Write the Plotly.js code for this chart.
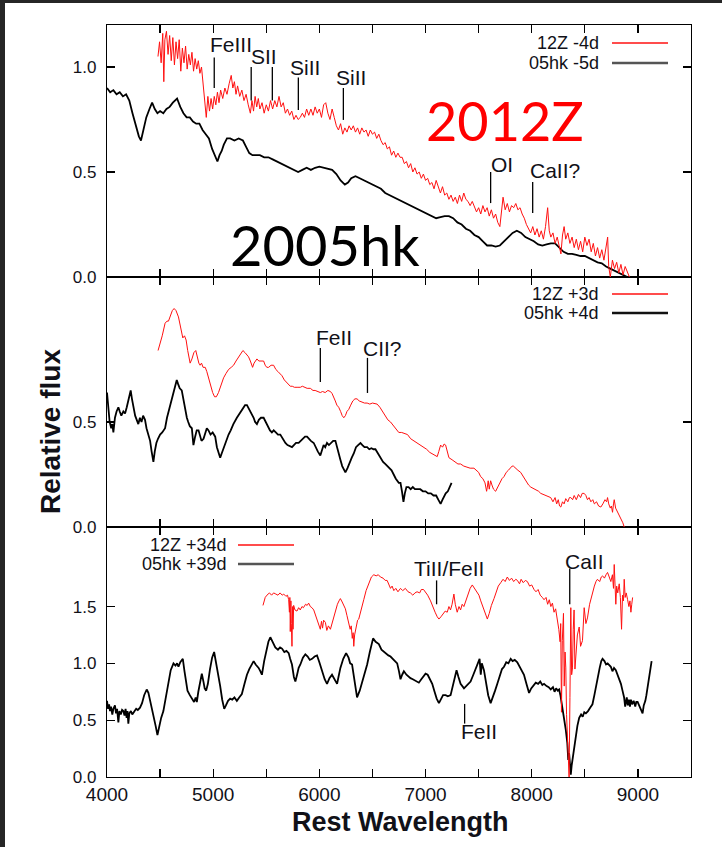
<!DOCTYPE html>
<html>
<head>
<meta charset="utf-8">
<script src="https://cdn.plot.ly/plotly-3.0.1.min.js"></script>
<style>
  html, body { margin: 0; padding: 0; background: #ffffff; }
  #chart { width: 722px; height: 847px; }
</style>
</head>
<body>
<div id="chart"></div>
<script>
// ---- Panel 1: pre-maximum spectra ----
const wlZ_m4 = [4480,4495,4510,4525,4535,4545,4560,4575,4590,4605,4620,4635,4650,4665,4680,4695,4710,4725,4740,4755,4770,4785,4800,4815,4830,4845,4860,4875,4890,4905,4920,4935,4950,4965,4980,4995,5010,5025,5040,5055,5070,5090,5110,5130,5150,5170,5185,5200,5215,5230,5250,5270,5290,5310,5330,5350,5365,5380,5395,5410,5425,5440,5460,5480,5500,5520,5540,5560,5580,5600,5620,5640,5660,5680,5700,5720,5740,5760,5780,5800,5820,5840,5860,5880,5900,5920,5940,5960,5980,6000,6020,6040,6060,6080,6100,6120,6140,6160,6180,6200,6220,6240,6260,6280,6300,6320,6340,6360,6380,6400,6420,6440,6460,6480,6500,6520,6540,6560,6580,6600,6620,6640,6660,6680,6700,6720,6740,6760,6780,6800,6820,6840,6860,6880,6900,6920,6940,6960,6980,7000,7020,7040,7060,7080,7100,7120,7140,7160,7180,7200,7220,7240,7260,7280,7300,7320,7340,7360,7380,7400,7420,7440,7460,7480,7500,7520,7540,7560,7580,7600,7620,7640,7660,7680,7700,7715,7730,7750,7770,7790,7810,7830,7850,7870,7890,7910,7930,7950,7970,7990,8010,8030,8050,8070,8090,8110,8130,8150,8165,8180,8200,8220,8240,8260,8275,8290,8305,8320,8340,8360,8380,8400,8420,8440,8460,8480,8500,8520,8540,8560,8580,8600,8620,8640,8660,8680,8700,8715,8725,8740,8760,8780,8800,8820,8840,8860,8880,8900,8920];
const fxZ_m4 = [1.05,1.12,1.02,1.16,0.93,1.13,1.17,1.06,1.15,1.03,1.14,1.01,1.12,1.04,1.13,0.98,1.09,1.02,1.10,0.99,1.06,1.01,1.07,0.98,1.04,0.99,1.03,0.97,1.00,0.93,0.84,0.76,0.86,0.79,0.85,0.80,0.86,0.82,0.88,0.83,0.89,0.85,0.90,0.87,0.92,0.96,0.90,0.93,0.87,0.91,0.86,0.89,0.84,0.87,0.82,0.78,0.84,0.79,0.86,0.81,0.85,0.80,0.83,0.78,0.82,0.79,0.84,0.80,0.84,0.81,0.86,0.81,0.83,0.78,0.80,0.77,0.79,0.75,0.77,0.75,0.76,0.78,0.76,0.80,0.77,0.80,0.77,0.81,0.78,0.80,0.76,0.82,0.83,0.78,0.75,0.80,0.76,0.72,0.70,0.73,0.68,0.71,0.69,0.72,0.70,0.72,0.69,0.71,0.68,0.71,0.69,0.70,0.67,0.70,0.68,0.69,0.66,0.68,0.65,0.63,0.64,0.61,0.62,0.58,0.60,0.57,0.59,0.57,0.57,0.54,0.55,0.52,0.54,0.50,0.52,0.49,0.50,0.47,0.49,0.46,0.47,0.44,0.45,0.42,0.46,0.43,0.40,0.43,0.39,0.40,0.37,0.39,0.36,0.38,0.35,0.39,0.36,0.40,0.37,0.36,0.34,0.36,0.33,0.31,0.33,0.30,0.34,0.31,0.33,0.29,0.32,0.28,0.30,0.26,0.24,0.30,0.38,0.32,0.35,0.31,0.34,0.33,0.35,0.32,0.33,0.30,0.28,0.25,0.23,0.21,0.24,0.20,0.23,0.19,0.22,0.18,0.24,0.33,0.22,0.19,0.21,0.16,0.19,0.14,0.11,0.20,0.24,0.18,0.21,0.16,0.19,0.14,0.18,0.13,0.17,0.12,0.19,0.15,0.18,0.12,0.16,0.10,0.14,0.09,0.13,0.08,0.15,0.19,0.05,0.00,0.08,0.04,0.07,0.02,0.06,0.01,0.05,0.02,0.00];

const wlHK_m5 = [4000,4030,4060,4090,4120,4150,4180,4210,4240,4270,4300,4320,4345,4370,4400,4425,4450,4475,4500,4530,4560,4590,4620,4660,4690,4720,4750,4780,4810,4840,4870,4900,4930,4960,4990,5020,5040,5060,5080,5100,5130,5160,5200,5240,5280,5310,5340,5370,5400,5440,5480,5520,5560,5600,5640,5680,5720,5760,5800,5840,5880,5920,5960,6000,6040,6080,6120,6160,6200,6240,6270,6300,6340,6380,6420,6460,6500,6540,6580,6620,6660,6700,6740,6780,6820,6860,6900,6940,6980,7020,7060,7100,7140,7180,7220,7260,7300,7340,7380,7420,7460,7500,7540,7580,7620,7660,7700,7740,7780,7820,7860,7900,7940,7980,8020,8060,8100,8140,8180,8220,8260,8300,8340,8380,8420,8460,8500,8540,8580,8620,8660,8700,8740,8780,8820,8860,8900];
const fxHK_m5 = [0.90,0.88,0.89,0.87,0.88,0.86,0.87,0.84,0.78,0.72,0.67,0.65,0.70,0.76,0.80,0.83,0.80,0.78,0.79,0.78,0.80,0.81,0.83,0.85,0.81,0.78,0.76,0.76,0.74,0.73,0.73,0.70,0.68,0.66,0.61,0.57,0.55,0.58,0.60,0.63,0.66,0.66,0.65,0.66,0.65,0.62,0.59,0.58,0.58,0.58,0.57,0.57,0.56,0.55,0.54,0.53,0.52,0.51,0.50,0.51,0.52,0.51,0.52,0.525,0.52,0.515,0.51,0.49,0.46,0.44,0.45,0.47,0.48,0.47,0.46,0.45,0.44,0.43,0.42,0.40,0.39,0.38,0.37,0.36,0.35,0.34,0.33,0.32,0.31,0.30,0.29,0.28,0.285,0.29,0.29,0.28,0.26,0.25,0.23,0.22,0.20,0.19,0.17,0.15,0.15,0.145,0.15,0.17,0.19,0.21,0.22,0.21,0.19,0.18,0.17,0.155,0.15,0.155,0.16,0.16,0.14,0.12,0.11,0.11,0.105,0.10,0.10,0.09,0.08,0.07,0.065,0.05,0.04,0.03,0.02,0.01,0.00];

// ---- Panel 2: just after maximum ----
const wlZ_p3 = [4481,4500,4520,4547,4565,4579,4600,4615,4632,4650,4673,4690,4705,4714,4730,4745,4760,4772,4783,4800,4818,4836,4850,4865,4877,4890,4905,4925,4940,4956,4975,4995,5013,5030,5050,5070,5098,5120,5145,5170,5192,5215,5240,5260,5280,5300,5318,5333,5350,5371,5385,5400,5412,5430,5450,5475,5490,5505,5522,5545,5569,5590,5610,5630,5648,5670,5690,5710,5726,5745,5765,5790,5821,5840,5860,5885,5915,5940,5960,5985,6009,6030,6055,6080,6104,6120,6135,6150,6165,6182,6200,6215,6230,6245,6260,6277,6295,6315,6335,6355,6375,6400,6425,6450,6475,6500,6525,6544,6570,6595,6620,6645,6670,6700,6725,6748,6775,6800,6830,6860,6890,6920,6950,6981,7010,7040,7070,7090,7110,7125,7142,7160,7175,7189,7205,7220,7250,7280,7305,7330,7360,7390,7420,7456,7480,7500,7519,7540,7560,7575,7582,7590,7600,7613,7625,7640,7660,7680,7700,7720,7739,7760,7780,7800,7815,7827,7845,7870,7896,7920,7945,7970,7991,8010,8040,8065,8085,8110,8140,8160,8179,8200,8220,8235,8250,8262,8274,8290,8305,8320,8340,8355,8368,8385,8400,8420,8440,8460,8475,8494,8510,8525,8540,8557,8575,8590,8610,8630,8651,8670,8690,8705,8714,8725,8740,8750,8761,8770,8777,8790,8800,8812,8824,8835,8845,8858,8871];
const fxZ_p3 = [0.84,0.87,0.91,0.97,0.98,0.98,1.01,1.03,1.04,1.03,1.00,0.96,0.92,0.90,0.91,0.89,0.84,0.80,0.78,0.80,0.83,0.84,0.81,0.78,0.77,0.78,0.76,0.76,0.74,0.71,0.68,0.64,0.62,0.62,0.64,0.67,0.71,0.73,0.75,0.76,0.77,0.79,0.81,0.83,0.84,0.83,0.82,0.81,0.79,0.76,0.78,0.79,0.80,0.79,0.79,0.79,0.77,0.76,0.76,0.77,0.77,0.75,0.74,0.73,0.72,0.70,0.69,0.68,0.67,0.67,0.665,0.665,0.665,0.67,0.665,0.66,0.66,0.65,0.65,0.645,0.64,0.645,0.64,0.65,0.645,0.635,0.62,0.60,0.58,0.57,0.55,0.53,0.52,0.53,0.55,0.56,0.58,0.60,0.61,0.61,0.60,0.595,0.59,0.59,0.585,0.59,0.585,0.585,0.57,0.55,0.53,0.51,0.50,0.48,0.46,0.45,0.45,0.445,0.44,0.42,0.41,0.40,0.39,0.38,0.37,0.355,0.345,0.34,0.335,0.36,0.39,0.38,0.395,0.39,0.35,0.33,0.32,0.31,0.30,0.30,0.29,0.285,0.28,0.28,0.27,0.26,0.24,0.23,0.21,0.17,0.19,0.22,0.18,0.22,0.20,0.18,0.17,0.19,0.21,0.23,0.24,0.26,0.27,0.28,0.29,0.29,0.28,0.27,0.26,0.24,0.22,0.20,0.19,0.185,0.18,0.17,0.16,0.155,0.15,0.145,0.14,0.12,0.14,0.11,0.13,0.10,0.095,0.12,0.11,0.135,0.12,0.14,0.14,0.13,0.15,0.13,0.155,0.14,0.16,0.16,0.15,0.13,0.14,0.12,0.13,0.11,0.12,0.10,0.095,0.11,0.13,0.12,0.14,0.11,0.09,0.10,0.07,0.11,0.13,0.09,0.08,0.06,0.05,0.04,0.03,0.02,0.00];

const wlHK_p4 = [4000,4012,4025,4040,4050,4060,4075,4090,4107,4120,4135,4154,4170,4186,4200,4212,4223,4235,4250,4265,4280,4295,4310,4325,4340,4358,4372,4388,4406,4420,4437,4450,4465,4480,4500,4520,4547,4565,4590,4610,4630,4645,4657,4670,4685,4704,4720,4735,4752,4765,4780,4799,4806,4814,4830,4845,4862,4875,4890,4909,4925,4940,4956,4975,4995,5019,5035,5050,5066,5080,5100,5120,5145,5165,5190,5223,5250,5275,5300,5318,5340,5360,5381,5395,5412,5430,5450,5475,5495,5515,5535,5553,5570,5590,5610,5632,5655,5680,5700,5720,5742,5760,5780,5805,5825,5845,5865,5884,5900,5920,5947,5965,5985,6009,6025,6040,6055,6072,6090,6110,6130,6151,6165,6180,6198,6215,6230,6245,6265,6285,6305,6324,6345,6365,6387,6405,6425,6450,6470,6490,6510,6528,6550,6575,6600,6620,6638,6660,6680,6700,6720,6748,6764,6778,6792,6805,6820,6840,6860,6880,6900,6920,6950,6975,7000,7025,7050,7075,7100,7120,7142,7160,7175,7190,7210,7230,7245];
const fxHK_p4 = [0.64,0.57,0.50,0.47,0.49,0.45,0.52,0.55,0.57,0.55,0.53,0.55,0.54,0.57,0.60,0.64,0.65,0.61,0.56,0.53,0.51,0.49,0.52,0.50,0.53,0.51,0.47,0.44,0.41,0.36,0.31,0.36,0.40,0.42,0.44,0.45,0.47,0.52,0.57,0.60,0.65,0.68,0.70,0.68,0.66,0.65,0.60,0.56,0.52,0.50,0.48,0.47,0.42,0.39,0.43,0.46,0.46,0.44,0.41,0.42,0.45,0.47,0.46,0.44,0.45,0.43,0.38,0.35,0.33,0.35,0.38,0.41,0.44,0.46,0.49,0.52,0.54,0.56,0.58,0.58,0.56,0.54,0.52,0.50,0.49,0.51,0.52,0.52,0.50,0.48,0.46,0.45,0.46,0.45,0.44,0.44,0.42,0.40,0.39,0.385,0.38,0.39,0.40,0.40,0.41,0.42,0.43,0.43,0.42,0.41,0.40,0.38,0.36,0.34,0.37,0.39,0.38,0.40,0.39,0.40,0.41,0.41,0.38,0.35,0.32,0.29,0.27,0.26,0.28,0.31,0.33,0.35,0.38,0.39,0.40,0.39,0.38,0.38,0.37,0.375,0.37,0.37,0.35,0.33,0.31,0.30,0.29,0.28,0.27,0.25,0.23,0.21,0.21,0.17,0.12,0.16,0.19,0.19,0.18,0.19,0.18,0.18,0.18,0.17,0.17,0.16,0.16,0.15,0.15,0.13,0.11,0.13,0.15,0.16,0.17,0.19,0.21];

// ---- Panel 3: about a month after maximum ----
const wlZ_p34 = [5469,5490,5506,5530,5550,5569,5590,5610,5630,5650,5664,5685,5700,5711,5718,5722,5726,5732,5736,5742,5748,5752,5758,5770,5789,5805,5820,5836,5850,5870,5885,5899,5915,5930,5947,5965,5980,5995,6009,6020,6030,6040,6057,6070,6085,6104,6120,6135,6151,6170,6185,6198,6215,6230,6245,6260,6270,6277,6290,6300,6310,6318,6324,6332,6345,6360,6371,6390,6405,6418,6440,6465,6490,6513,6535,6555,6575,6600,6620,6638,6655,6670,6685,6701,6720,6740,6764,6785,6810,6835,6858,6880,6900,6920,6945,6960,6981,7000,7020,7047,7070,7090,7110,7126,7145,7165,7185,7204,7220,7235,7250,7267,7280,7298,7315,7330,7345,7361,7380,7400,7420,7440,7460,7480,7503,7520,7540,7560,7582,7600,7620,7645,7665,7685,7708,7730,7750,7770,7790,7810,7830,7850,7865,7885,7900,7920,7940,7959,7980,8000,8022,8040,8060,8080,8100,8116,8135,8150,8165,8180,8195,8210,8225,8242,8255,8267,8273,8280,8288,8299,8306,8314,8321,8328,8336,8344,8352,8360,8368,8376,8384,8391,8399,8407,8415,8430,8447,8460,8478,8486,8494,8510,8525,8545,8560,8572,8590,8605,8619,8640,8655,8667,8685,8700,8714,8730,8745,8760,8770,8777,8785,8792,8800,8810,8824,8835,8846,8855,8864,8871,8880,8890,8903,8915,8925,8934,8942,8950];
const fxZ_p34 = [1.51,1.58,1.60,1.62,1.60,1.62,1.61,1.60,1.62,1.60,1.61,1.59,1.60,1.56,1.45,1.58,1.28,1.55,1.35,1.15,1.50,1.30,1.51,1.47,1.46,1.49,1.47,1.50,1.49,1.52,1.51,1.53,1.50,1.49,1.47,1.42,1.36,1.33,1.30,1.37,1.31,1.38,1.36,1.29,1.33,1.30,1.36,1.41,1.45,1.52,1.55,1.57,1.54,1.50,1.48,1.42,1.38,1.36,1.30,1.33,1.22,1.27,1.15,1.25,1.32,1.38,1.39,1.47,1.52,1.56,1.64,1.71,1.76,1.78,1.77,1.78,1.76,1.75,1.73,1.73,1.70,1.66,1.68,1.64,1.66,1.63,1.66,1.64,1.66,1.63,1.62,1.60,1.62,1.63,1.62,1.65,1.65,1.63,1.60,1.55,1.49,1.45,1.41,1.39,1.41,1.44,1.46,1.45,1.50,1.47,1.52,1.61,1.52,1.45,1.50,1.47,1.52,1.50,1.55,1.61,1.66,1.69,1.66,1.63,1.60,1.55,1.50,1.44,1.39,1.44,1.51,1.57,1.63,1.68,1.71,1.74,1.72,1.76,1.73,1.75,1.72,1.74,1.73,1.70,1.74,1.71,1.73,1.72,1.68,1.69,1.65,1.63,1.65,1.60,1.58,1.56,1.58,1.52,1.56,1.50,1.53,1.45,1.48,1.39,1.30,1.19,1.35,0.57,1.20,1.44,0.80,1.10,0.96,0.55,0.35,0.10,0.00,0.70,1.49,0.90,0.96,1.30,1.47,0.95,1.08,1.25,1.32,1.15,1.20,1.40,1.49,1.35,1.40,1.52,1.58,1.62,1.68,1.72,1.74,1.72,1.76,1.77,1.75,1.78,1.80,1.76,1.72,1.78,1.66,1.87,1.60,1.52,1.68,1.62,1.70,1.58,1.30,1.60,1.55,1.74,1.58,1.62,1.56,1.50,1.55,1.45,1.52,1.58];

const wlHK_p39 = [4000,4010,4020,4028,4038,4050,4060,4075,4085,4095,4107,4117,4130,4142,4154,4165,4175,4185,4193,4201,4210,4225,4238,4248,4260,4275,4290,4311,4330,4350,4374,4390,4405,4421,4440,4458,4475,4490,4510,4531,4550,4565,4579,4600,4626,4645,4660,4673,4690,4714,4730,4745,4758,4780,4799,4820,4835,4846,4860,4875,4893,4910,4920,4934,4950,4970,4990,5009,5025,5045,5066,5085,5104,5120,5140,5160,5180,5200,5223,5245,5270,5295,5318,5340,5360,5381,5400,5428,5445,5459,5480,5506,5520,5538,5560,5585,5610,5630,5648,5670,5690,5711,5725,5742,5760,5774,5790,5805,5821,5845,5868,5890,5910,5931,5955,5978,6000,6025,6050,6072,6095,6119,6140,6167,6180,6198,6225,6252,6275,6290,6308,6325,6340,6355,6380,6403,6425,6450,6475,6506,6530,6560,6585,6607,6630,6650,6670,6700,6733,6750,6764,6780,6796,6820,6840,6858,6880,6900,6920,6937,6960,6980,7000,7020,7040,7063,7085,7105,7126,7145,7165,7189,7210,7236,7260,7292,7310,7330,7362,7385,7405,7424,7450,7480,7500,7509,7520,7530,7550,7570,7590,7613,7635,7655,7676,7700,7720,7739,7760,7780,7802,7820,7840,7864,7885,7905,7927,7950,7975,7995,8015,8038,8060,8080,8100,8116,8140,8160,8179,8200,8215,8230,8245,8258,8270,8285,8295,8305,8320,8335,8344,8352,8360,8368,8376,8385,8399,8415,8430,8447,8465,8480,8495,8510,8530,8550,8572,8590,8605,8619,8640,8655,8667,8685,8700,8715,8730,8745,8760,8775,8792,8810,8825,8840,8855,8870,8880,8887,8895,8905,8915,8925,8934,8945,8960,8975,8985,8997,9010,9025,9035,9044,9055,9070,9080,9091,9105,9118,9129];
const fxHK_p39 = [0.67,0.60,0.64,0.58,0.62,0.55,0.60,0.63,0.56,0.60,0.48,0.58,0.55,0.59,0.58,0.54,0.60,0.52,0.58,0.47,0.56,0.58,0.55,0.57,0.58,0.60,0.59,0.61,0.65,0.72,0.77,0.74,0.68,0.62,0.55,0.45,0.37,0.45,0.52,0.58,0.68,0.77,0.84,0.94,1.00,0.98,1.00,0.97,1.01,1.04,0.93,0.82,0.76,0.72,0.69,0.66,0.70,0.66,0.75,0.84,0.91,0.83,0.78,0.76,0.82,0.95,1.05,1.10,1.02,0.90,0.80,0.68,0.60,0.63,0.67,0.69,0.68,0.70,0.67,0.70,0.73,0.82,0.90,0.95,0.98,1.02,0.99,0.96,0.93,0.90,1.02,1.13,1.19,1.23,1.18,1.14,1.12,1.14,1.13,1.10,1.11,1.09,1.04,0.99,0.88,0.84,0.90,0.96,0.99,1.05,1.08,1.06,1.03,1.04,1.06,1.07,1.01,0.93,0.86,0.82,0.87,0.90,0.86,0.82,0.88,0.96,1.04,1.09,1.05,1.00,0.99,0.88,0.77,0.70,0.76,0.83,0.91,0.99,1.10,1.22,1.19,1.17,1.12,1.10,1.08,1.07,1.06,1.03,1.00,0.93,0.86,0.90,0.93,0.90,0.88,0.87,0.86,0.85,0.84,0.83,0.86,0.89,0.91,0.90,0.86,0.82,0.75,0.69,0.65,0.68,0.72,0.72,0.71,0.72,0.82,0.94,0.88,0.82,0.78,0.80,0.82,0.84,0.90,0.97,1.02,1.04,0.90,1.00,0.94,0.82,0.72,0.65,0.70,0.76,0.82,0.90,0.95,0.97,1.01,1.00,1.04,1.02,1.03,1.01,0.97,0.94,0.90,0.82,0.74,0.78,0.80,0.83,0.82,0.84,0.81,0.82,0.80,0.79,0.77,0.79,0.75,0.78,0.76,0.77,0.72,0.64,0.58,0.52,0.42,0.30,0.15,0.21,0.05,0.02,0.10,0.16,0.23,0.35,0.45,0.52,0.55,0.53,0.57,0.56,0.58,0.61,0.64,0.72,0.80,0.86,0.96,1.02,1.04,1.02,0.99,1.00,0.98,0.97,0.93,0.96,0.94,0.90,0.86,0.82,0.76,0.70,0.62,0.65,0.70,0.63,0.68,0.62,0.68,0.64,0.67,0.62,0.66,0.66,0.63,0.60,0.57,0.56,0.63,0.67,0.72,0.78,0.86,0.94,1.02];

// Axis tick values and labels
const xTickVals = [4000,4500,5000,5500,6000,6500,7000,7500,8000,8500,9000];
const xTickText = ['4000','','5000','','6000','','7000','','8000','','9000'];
const yTicks1 = [0, 0.5, 1.0];
const yTicks2 = [0, 0.5];
const yTicks3 = [0, 0.5, 1.0, 1.5];
const yTickText = v => v.map(t => t.toFixed(1));

// Legend entries, one pair per panel
const legendNames = [
  ['12Z -4d', '05hk -5d'],
  ['12Z +3d', '05hk +4d'],
  ['12Z +34d', '05hk +39d']
];

// Line identifications: [text, line wavelength, line bottom, line top, text x, text y, axis]
const lineIds = [
  ['FeIII', 5010, 0.90, 1.045, 5165, 1.105, 'y3'],
  ['SII', 5358, 0.84, 1.00, 5480, 1.05, 'y3'],
  ['', 5557, 0.84, 1.00, 0, 0, 'y3'],
  ['SiII', 5802, 0.795, 0.95, 5860, 1.00, 'y3'],
  ['SiII', 6226, 0.748, 0.90, 6295, 0.952, 'y3'],
  ['OI', 7613, 0.352, 0.50, 7722, 0.535, 'y3'],
  ['CaII?', 8009, 0.305, 0.452, 8217, 0.505, 'y3'],
  ['FeII', 6009, 0.69, 0.852, 6137, 0.90, 'y2'],
  ['CII?', 6453, 0.638, 0.805, 6594, 0.848, 'y2'],
  ['TiII/FeII', 7104, 1.52, 1.73, 7217, 1.835, 'y'],
  ['CaII', 8358, 1.52, 1.835, 8500, 1.90, 'y'],
  ['FeII', 7368, 0.47, 0.643, 7500, 0.40, 'y']
];

const RED = '#ff1010';
const BLACK = '#000000';
const TXT = '#111118';
const FONT = 'Liberation Sans, Arial, sans-serif';

function spec(x, y, color, width, xa, ya) {
  return { x: x, y: y, type: 'scatter', mode: 'lines', xaxis: xa, yaxis: ya,
           line: { color: color, width: width }, hoverinfo: 'skip', showlegend: false };
}

const traces = [
  spec(wlHK_m5, fxHK_m5, BLACK, 1.8, 'x3', 'y3'),
  spec(wlZ_m4, fxZ_m4, RED, 1.0, 'x3', 'y3'),
  spec(wlHK_p4, fxHK_p4, BLACK, 1.8, 'x2', 'y2'),
  spec(wlZ_p3, fxZ_p3, RED, 1.0, 'x2', 'y2'),
  spec(wlHK_p39, fxHK_p39, BLACK, 1.8, 'x', 'y'),
  spec(wlZ_p34, fxZ_p34, RED, 1.0, 'x', 'y')
];

// panel frames: bottom (y), middle (y2), top (y3)
const H = 752, W = 584;
const dom3 = [0, 250 / H];
const dom2 = [250 / H, 500 / H];
const dom1 = [500 / H, 1];

function xAxis(anchor, labels) {
  return {
    range: [4000, 9500], anchor: anchor, tickmode: 'array', tickvals: xTickVals,
    ticktext: labels ? xTickText : xTickVals.map(() => ''),
    ticks: 'inside', ticklen: 8, tickwidth: 1.3, tickcolor: '#000',
    showline: true, linecolor: '#000', linewidth: 1.2, mirror: 'ticks',
    showgrid: false, zeroline: false,
    tickfont: { family: FONT, size: 19, color: TXT }
  };
}
function yAxis(dom, range, ticks) {
  return {
    domain: dom, range: range, tickmode: 'array', tickvals: ticks, ticktext: yTickText(ticks),
    ticks: 'inside', ticklen: 8, tickwidth: 1.3, tickcolor: '#000',
    showline: true, linecolor: '#000', linewidth: 1.2, mirror: 'ticks',
    showgrid: false, zeroline: false, ticklabelstandoff: 6,
    tickfont: { family: FONT, size: 17, color: TXT }
  };
}

const annotations = [];
const shapes = [];

// identification ticks and labels
lineIds.forEach(([txt, wl, y0, y1, tx, ty, ya]) => {
  const xa = ya === 'y' ? 'x' : (ya === 'y2' ? 'x2' : 'x3');
  shapes.push({ type: 'line', xref: xa, yref: ya, x0: wl, x1: wl, y0: y0, y1: y1,
                line: { color: '#000', width: 1.3 } });
  if (txt) {
    annotations.push({ text: txt, xref: xa, yref: ya, x: tx, y: ty, showarrow: false,
                       xanchor: 'center', yanchor: 'middle', borderpad: 0,
                       font: { family: FONT, size: 21, color: TXT } });
  }
});

// legends drawn as right-aligned text with a short line sample to the right
function legend(names, textX, lineX0, lineX1, yTop, yBot, blackColor) {
  const rows = [[names[0], yTop, RED, 1.3], [names[1], yBot, blackColor, 2.6]];
  rows.forEach(([name, yy, col, w]) => {
    annotations.push({ text: name, xref: 'paper', yref: 'paper', x: textX, y: yy,
                       xanchor: 'right', yanchor: 'middle', showarrow: false, borderpad: 0,
                       font: { family: FONT, size: 18, color: TXT } });
    shapes.push({ type: 'line', xref: 'paper', yref: 'paper', x0: lineX0, x1: lineX1,
                  y0: yy, y1: yy, line: { color: col, width: w } });
  });
}
const px = v => (v - 107) / W;
const py = v => (777 - v) / H;
legend(legendNames[0], px(600), px(612), px(668), py(43), py(63), '#555');
legend(legendNames[1], px(600), px(612), px(668), py(294), py(313), '#111');
legend(legendNames[2], px(228), px(238), px(294), py(545), py(564), '#555');

// object names in the top panel
annotations.push({ text: '2012Z', xref: 'paper', yref: 'paper', x: px(505), y: py(121),
                   xanchor: 'center', yanchor: 'middle', showarrow: false, borderpad: 0,
                   font: { family: 'Lato, Open Sans, sans-serif', size: 54, color: '#ff0000' } });
annotations.push({ text: '2005hk', xref: 'paper', yref: 'paper', x: px(325), y: py(245),
                   xanchor: 'center', yanchor: 'middle', showarrow: false, borderpad: 0,
                   font: { family: 'Lato, Open Sans, sans-serif', size: 56, color: '#000' } });

// axis titles
annotations.push({ text: 'Rest Wavelength', xref: 'paper', yref: 'paper', x: px(400), y: py(822),
                   xanchor: 'center', yanchor: 'middle', showarrow: false,
                   font: { family: FONT, size: 27, color: TXT, weight: 'bold' } });
annotations.push({ text: 'Relative flux', xref: 'paper', yref: 'paper', x: px(50), y: py(432),
                   xanchor: 'center', yanchor: 'middle', showarrow: false, textangle: -90,
                   font: { family: FONT, size: 28, color: TXT, weight: 'bold' } });

// dark window edge along the left and top
shapes.push({ type: 'rect', xref: 'paper', yref: 'paper', x0: px(-5), x1: px(5), y0: py(860), y1: py(-5),
              fillcolor: '#262626', line: { width: 0 }, layer: 'above' });
shapes.push({ type: 'rect', xref: 'paper', yref: 'paper', x0: px(-5), x1: px(730), y0: py(3), y1: py(-5),
              fillcolor: '#262626', line: { width: 0 }, layer: 'above' });

const layout = {
  width: 722, height: 847,
  margin: { l: 107, r: 31, t: 25, b: 70 },
  paper_bgcolor: '#ffffff', plot_bgcolor: '#ffffff',
  showlegend: false,
  font: { family: FONT, color: TXT },
  xaxis: xAxis('y', true),
  xaxis2: Object.assign(xAxis('y2', false), { matches: 'x' }),
  xaxis3: Object.assign(xAxis('y3', false), { matches: 'x' }),
  yaxis: yAxis(dom3, [0, 2.2], yTicks3),
  yaxis2: yAxis(dom2, [0, 1.19], yTicks2),
  yaxis3: yAxis(dom1, [0, 1.2], yTicks1),
  annotations: annotations,
  shapes: shapes
};

Plotly.newPlot('chart', traces, layout, { staticPlot: true, displayModeBar: false });
</script>
</body>
</html>
